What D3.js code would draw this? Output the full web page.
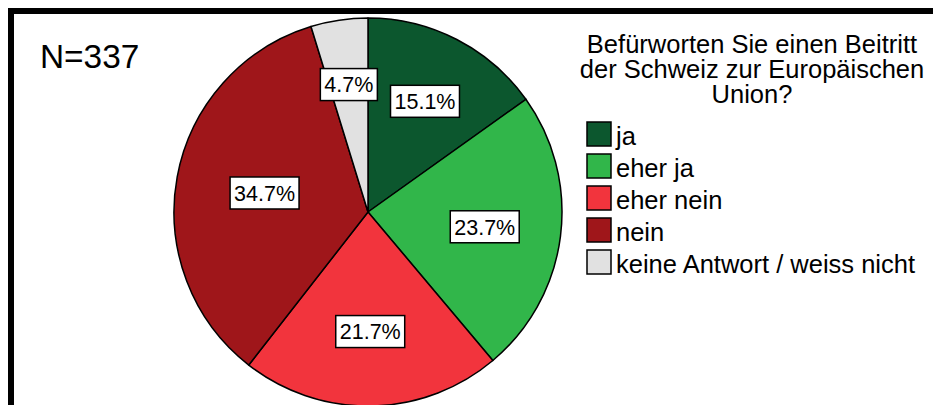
<!DOCTYPE html>
<html>
<head>
<meta charset="utf-8">
<script src="https://cdn.jsdelivr.net/npm/d3@7"></script>
<style>
  body { margin: 0; background: #fff; }
  text { font-family: "Liberation Sans", Arial, sans-serif; fill: #000; }
</style>
</head>
<body>
<div id="chart"></div>
<script>
// data (N=337)
var categories = ["ja", "eher ja", "eher nein", "nein", "keine Antwort / weiss nicht"];
var counts = [51, 80, 73, 117, 16];
var colors = ["#0c572e", "#31b64a", "#f2343d", "#9f161a", "#e1e1e1"];
var titleLines = ["Befürworten Sie einen Beitritt", "der Schweiz zur Europäischen", "Union?"];
var nLabel = "N=337";

var width = 933, height = 405;
var cx = 368, cy = 212, radius = 194;

var svg = d3.select("#chart")
    .append("svg")
    .attr("width", width)
    .attr("height", height);

// frame (top and left thick lines)
svg.append("rect").attr("x", 8).attr("y", 8).attr("width", width - 8).attr("height", 6).attr("fill", "#000");
svg.append("rect").attr("x", 8).attr("y", 8).attr("width", 6).attr("height", height - 8).attr("fill", "#000");

svg.append("text")
    .attr("x", 40)
    .attr("y", 68)
    .attr("font-size", 33.4)
    .text(nLabel);

var total = d3.sum(counts);
var data = categories.map(function(c, i) { return {name: c, value: counts[i], color: colors[i]}; });

var pie = d3.pie().sort(null).value(function(d) { return d.value; });
var arc = d3.arc().innerRadius(0).outerRadius(radius);

var g = svg.append("g").attr("transform", "translate(" + cx + "," + cy + ")");

var arcs = pie(data);

g.selectAll("path.slice")
    .data(arcs)
    .enter().append("path")
    .attr("class", "slice")
    .attr("d", arc)
    .attr("fill", function(d) { return d.data.color; })
    .attr("stroke", "#000")
    .attr("stroke-width", 1.5)
    .attr("stroke-linejoin", "round");

// labels at the geometric centroid of each sector
var labels = g.selectAll("g.lab")
    .data(arcs)
    .enter().append("g")
    .attr("class", "lab")
    .attr("transform", function(d) {
        var a = d.endAngle - d.startAngle;
        var mid = (d.startAngle + d.endAngle) / 2;
        var dist = 4 * radius * Math.sin(a / 2) / (3 * a);
        return "translate(" + (dist * Math.sin(mid)) + "," + (-dist * Math.cos(mid)) + ")";
    });

labels.each(function(d) {
    var lg = d3.select(this);
    var txt = lg.append("text")
        .attr("text-anchor", "middle")
        .attr("dy", "0.36em")
        .attr("font-size", 21.5)
        .text((d.data.value / total * 100).toFixed(1) + "%");
    var w = txt.node().getComputedTextLength() + 8;
    lg.insert("rect", "text")
        .attr("x", -w / 2)
        .attr("y", -16)
        .attr("width", w)
        .attr("height", 32)
        .attr("fill", "#fff")
        .attr("stroke", "#000")
        .attr("stroke-width", 1.5);
});

// legend
var legendX = 587, titleX = 752;
svg.append("g").selectAll("text")
    .data(titleLines)
    .enter().append("text")
    .attr("x", titleX)
    .attr("y", function(d, i) { return 53 + i * 25; })
    .attr("text-anchor", "middle")
    .attr("font-size", 25.5)
    .text(function(d) { return d; });

var legend = svg.append("g").selectAll("g")
    .data(data)
    .enter().append("g")
    .attr("transform", function(d, i) { return "translate(" + legendX + "," + (122 + i * 32) + ")"; });

legend.append("rect")
    .attr("width", 24)
    .attr("height", 24)
    .attr("fill", function(d) { return d.color; })
    .attr("stroke", "#000")
    .attr("stroke-width", 1.5);

legend.append("text")
    .attr("x", 29)
    .attr("y", 23)
    .attr("font-size", 25.5)
    .text(function(d) { return d.name; });
</script>
</body>
</html>
